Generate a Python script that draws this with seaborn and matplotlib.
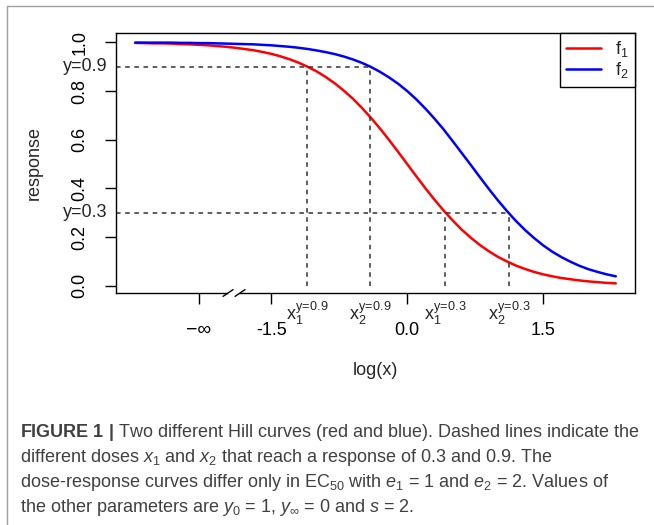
import matplotlib
matplotlib.use('Agg')
import matplotlib.pyplot as plt
import numpy as np
import pandas as pd
import seaborn as sns
from matplotlib.lines import Line2D

# Hill curves (log dose vs response)
LOG_X = [-3.0, -2.9, -2.8, -2.7, -2.6, -2.5, -2.4, -2.3, -2.2, -2.1,
         -2.0, -1.9, -1.8, -1.7, -1.6, -1.5, -1.4, -1.3, -1.2, -1.1,
         -1.0, -0.9, -0.8, -0.7, -0.6, -0.5, -0.4, -0.3, -0.2, -0.1,
         0.0, 0.1, 0.2, 0.3, 0.4, 0.5, 0.6, 0.7, 0.8, 0.9,
         1.0, 1.1, 1.2, 1.3, 1.4, 1.5, 1.6, 1.7, 1.8, 1.9,
         2.0, 2.1, 2.2, 2.3]
F1 = [0.998, 0.997, 0.996, 0.996, 0.995, 0.993, 0.992, 0.990, 0.988, 0.985,
      0.982, 0.978, 0.973, 0.968, 0.961, 0.953, 0.943, 0.931, 0.917, 0.900,
      0.881, 0.858, 0.832, 0.802, 0.769, 0.731, 0.690, 0.646, 0.599, 0.550,
      0.500, 0.450, 0.401, 0.354, 0.310, 0.269, 0.231, 0.198, 0.168, 0.142,
      0.119, 0.100, 0.083, 0.069, 0.057, 0.047, 0.039, 0.032, 0.027, 0.022,
      0.018, 0.015, 0.012, 0.010]
F2 = [0.999, 0.999, 0.999, 0.999, 0.999, 0.998, 0.998, 0.997, 0.997, 0.996,
      0.995, 0.994, 0.993, 0.992, 0.990, 0.988, 0.985, 0.982, 0.978, 0.973,
      0.967, 0.960, 0.952, 0.942, 0.930, 0.916, 0.899, 0.879, 0.856, 0.830,
      0.800, 0.766, 0.728, 0.687, 0.643, 0.595, 0.546, 0.497, 0.447, 0.398,
      0.351, 0.307, 0.266, 0.229, 0.196, 0.166, 0.140, 0.118, 0.099, 0.082,
      0.068, 0.057, 0.047, 0.039]

# response levels and the doses that reach them
LEVELS = [0.9, 0.3]
X1_CROSS = [-1.10, 0.42]
X2_CROSS = [-0.41, 1.12]
CROSS_LABELS = [r'$\mathregular{x_1^{y\!=\!0.9}}$', r'$\mathregular{x_2^{y\!=\!0.9}}$',
                r'$\mathregular{x_1^{y\!=\!0.3}}$', r'$\mathregular{x_2^{y\!=\!0.3}}$']
LEVEL_LABELS = ['y=0.9', 'y=0.3']

XTICKS = [-2.3, -1.5, 0.0, 1.5]
XTICK_LABELS = ['\u2212\u221e', '-1.5', '0.0', '1.5']
YTICKS = [0.0, 0.2, 0.4, 0.6, 0.8, 1.0]
YTICK_LABELS = ['0.0', '0.2', '0.4', '0.6', '0.8', '1.0']
BREAK_AT = -1.91

CAPTION = [
    r'$\mathbf{FIGURE\ 1\ |}$ Two different Hill curves (red and blue). Dashed lines indicate the',
    r'different doses $x_1$ and $x_2$ that reach a response of 0.3 and 0.9. The',
    r'dose-response curves differ only in EC$_{50}$ with $e_1$ = 1 and $e_2$ = 2. Values of',
    r'the other parameters are $y_0$ = 1, $y_\infty$ = 0 and $s$ = 2.',
]

sns.set_theme(style='ticks')
plt.rcParams['font.family'] = ['Liberation Sans', 'DejaVu Sans']
plt.rcParams['mathtext.fontset'] = 'custom'
plt.rcParams['mathtext.rm'] = 'Liberation Sans'
plt.rcParams['mathtext.it'] = 'Liberation Sans:italic'
plt.rcParams['mathtext.bf'] = 'Liberation Sans:bold'

fig = plt.figure(figsize=(6.54, 5.25), dpi=100)
ax = fig.add_axes([116 / 654, 1 - 293 / 525, 519 / 654, 260 / 525])

n = len(LOG_X)
df = pd.DataFrame({'logx': LOG_X * 2, 'response': F1 + F2,
                   'curve': ['f1'] * n + ['f2'] * n})
sns.lineplot(data=df, x='logx', y='response', hue='curve',
             palette={'f1': '#ff0000', 'f2': '#0000ff'}, linewidth=1.8,
             estimator=None, legend=False, ax=ax)

# R style 4% padding
xlo, xhi = min(LOG_X), max(LOG_X)
ylo, yhi = min(F1 + F2), max(F1 + F2)
xpad, ypad = 0.04 * (xhi - xlo), 0.04 * (yhi - ylo)
ax.set_xlim(xlo - xpad, xhi + xpad)
ax.set_ylim(ylo - ypad, yhi + ypad)

dash = (0, (3, 3))
for lvl, a, b in zip(LEVELS, X1_CROSS, X2_CROSS):
    ax.hlines(lvl, xlo - xpad, b, colors='#333333', linestyles=dash, lw=1.1)
    ax.vlines([a, b], 0, lvl, colors='#333333', linestyles=dash, lw=1.1)

for xv, lab in zip(sorted(X1_CROSS + X2_CROSS), CROSS_LABELS):
    ax.annotate(lab, xy=(xv, 0), xycoords=ax.get_xaxis_transform(),
                xytext=(0, -15), textcoords='offset points', ha='center',
                va='center', fontsize=13, annotation_clip=False)

for lvl, lab in zip(LEVELS, LEVEL_LABELS):
    ax.annotate(lab, xy=(0, lvl), xycoords=ax.get_yaxis_transform(),
                xytext=(-6, 0), textcoords='offset points', ha='right',
                va='center', fontsize=13, annotation_clip=False)

ax.set_xticks(XTICKS)
ax.set_xticklabels(XTICK_LABELS)
ax.set_yticks(YTICKS)
ax.set_yticklabels(YTICK_LABELS)
ax.tick_params(axis='x', length=8, width=1, pad=13, labelsize=13, colors='black')
ax.tick_params(axis='y', length=8, width=1, pad=12, labelsize=13, colors='black',
               labelrotation=90)
for lab in ax.get_yticklabels():
    lab.set_va('center')
ax.get_xticklabels()[0].set_fontsize(14)

for sp in ax.spines.values():
    sp.set_visible(True)
    sp.set_color('black')
    sp.set_linewidth(1.0)

# axis break marks
bt = ax.get_xaxis_transform()
ax.plot([BREAK_AT - 0.04, BREAK_AT + 0.04], [0, 0], color='white', lw=3,
        transform=bt, clip_on=False, zorder=5)
for off in (-0.066, 0.066):
    ax.plot([BREAK_AT + off - 0.055, BREAK_AT + off + 0.055], [-0.013, 0.013],
            color='black', lw=1, transform=bt, clip_on=False, zorder=6)

ax.set_xlabel('log(x)', fontsize=13)
ax.set_ylabel('response', fontsize=13)
ax.xaxis.set_label_coords(0.5, -0.265)
ax.yaxis.set_label_coords(-0.141, 0.5)

handles = [Line2D([], [], color='#ff0000', lw=1.8),
           Line2D([], [], color='#0000ff', lw=1.8)]
leg = ax.legend(handles, [r'$\mathregular{f_1}$', r'$\mathregular{f_2}$'],
                loc='upper right', borderaxespad=0, fancybox=False,
                edgecolor='black', framealpha=1, fontsize=13, handlelength=1.9,
                handletextpad=0.8, labelspacing=0.05, borderpad=0.35)
leg.get_frame().set_linewidth(1.0)

# caption
for i, line in enumerate(CAPTION):
    fig.text(20 / 654, 1 - (437 + 25 * i) / 525, line, fontsize=13,
             color='#404040', va='baseline', ha='left')

# frame lines
fig.add_artist(Line2D([7 / 654, 7 / 654], [0, 1 - 6 / 525], color='#a0a0a0',
                      lw=1, transform=fig.transFigure))
fig.add_artist(Line2D([7 / 654, 1], [1 - 6 / 525, 1 - 6 / 525], color='#a0a0a0',
                      lw=1, transform=fig.transFigure))

fig.savefig('out.png', dpi=100)
